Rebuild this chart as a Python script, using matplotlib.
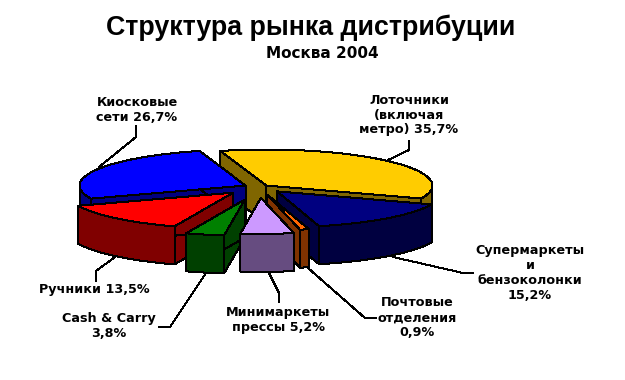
import numpy as np
import matplotlib
matplotlib.use('Agg')
import matplotlib.pyplot as plt
from matplotlib.patches import Polygon

plt.rcParams['font.family'] = ['DejaVu Sans']

# data, clockwise from the top
names = ['Лоточники', 'Супермаркеты', 'Почтовые', 'Минимаркеты', 'Cash & Carry', 'Ручники', 'Киосковые']
shares = [35.7, 15.2, 0.9, 5.2, 3.8, 13.5, 26.7]

top_colors = ['#FFCC00', '#000080', '#FF6600', '#CC99FF', '#008000', '#FF0000', '#0000FF']
side_colors = ['#806600', '#000040', '#803300', '#664C80', '#004000', '#800000', '#000080']
explode = [10, 27, 35, 50, 60, 37, 15]
draw_order = [0, 6, 1, 5, 2, 4, 3]

# pie geometry, in pixels of the figure
cx, cy = 259, 187
rx, ry = 166, 36
depth = 38
start_angle = 106.1

fig = plt.figure(figsize=(6.25, 3.8), dpi=100)
ax = fig.add_axes([0, 0, 1, 1])
ax.set_xlim(0, 625)
ax.set_ylim(380, 0)
ax.axis('off')


def arc(x0, y0, t1, t2, n=80):
    t = np.radians(np.linspace(t1, t2, n))
    return np.column_stack([x0 + rx * np.cos(t), y0 - ry * np.sin(t)])


def poly(pts, color, z):
    ax.add_patch(Polygon(pts, closed=True, facecolor=color, edgecolor='black',
                         lw=0.72, zorder=z, antialiased=False))


# angles of each slice
total = sum(shares)
sweeps = np.array(shares) / total * 360
ends = start_angle - np.cumsum(sweeps)
starts = ends + sweeps

for order, i in enumerate(draw_order):
    t1, t2 = starts[i], ends[i]
    mid = np.radians((t1 + t2) / 2)
    x0 = cx + explode[i] * np.cos(mid)
    y0 = cy - explode[i] * ry / rx * np.sin(mid)
    z = 10 + order * 5

    # cut faces
    for t in (t1, t2):
        p = arc(x0, y0, t, t, 1)[0]
        poly([(x0, y0), p, (p[0], p[1] + depth), (x0, y0 + depth)], side_colors[i], z)

    # outer wall, only the front half of the ellipse shows
    for lo, hi in ((180, 360), (-180, 0)):
        a, b = max(t2, lo), min(t1, hi)
        if a < b:
            upper = arc(x0, y0, a, b)
            lower = upper[::-1] + [0, depth]
            poly(np.vstack([upper, lower]), side_colors[i], z + 1)

    # top
    poly(np.vstack([[(x0, y0)], arc(x0, y0, t1, t2)]), top_colors[i], z + 2)

# leader lines
leaders = [
    ([136, 136, 99], [126, 137, 167]),
    ([409, 409, 388], [141, 150, 160]),
    ([393, 463, 473], [257, 273, 273]),
    ([115, 96, 96], [257, 271, 281]),
    ([206, 170, 159], [273, 327, 327]),
    ([269, 279, 279], [273, 293, 302]),
    ([308, 365, 376], [268, 318, 318]),
]
for xs, ys in leaders:
    ax.plot(xs, ys, color='black', lw=0.72, zorder=60, antialiased=False)

ax.text(311, 28, 'Структура рынка дистрибуции', ha='center', va='center',
        fontsize=19.3, fontweight='bold', family='Liberation Sans')
ax.text(322, 53, 'Москва 2004', ha='center', va='center', fontsize=11, fontweight='bold')

labels = [
    (137, 110, 'Киосковые\nсети 26,7%'),
    (409, 115, 'Лоточники\n(включая\nметро) 35,7%'),
    (530, 273, 'Супермаркеты\nи\nбензоколонки\n15,2%'),
    (417, 318, 'Почтовые\nотделения\n0,9%'),
    (278, 320, 'Минимаркеты\nпрессы 5,2%'),
    (109, 326, 'Cash & Carry\n3,8%'),
    (94, 289, 'Ручники 13,5%'),
]
for x, y, s in labels:
    ax.text(x, y, s, ha='center', va='center', fontsize=9.2, fontweight='bold', linespacing=1.2)

fig.savefig('out.png', dpi=100)
